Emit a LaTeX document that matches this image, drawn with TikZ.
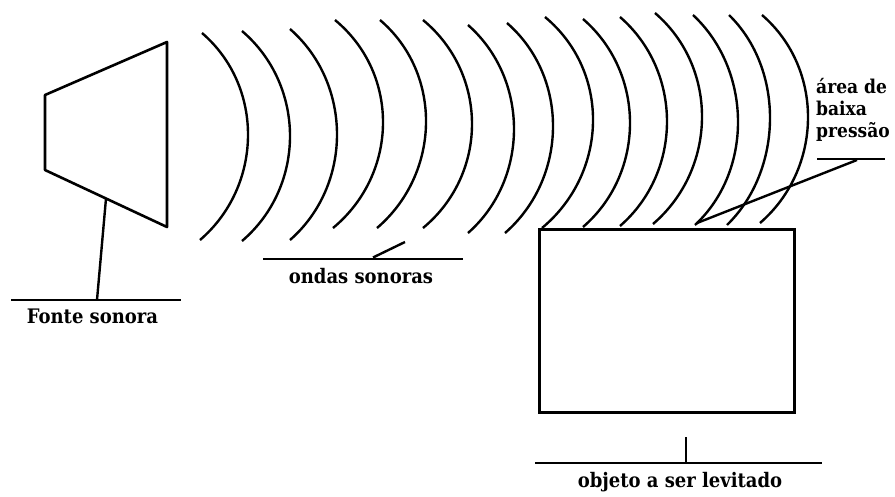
\documentclass[tikz,border=0pt]{standalone}
\usepackage{fontspec}
\setmainfont{DejaVu Serif Condensed}[BoldFont={DejaVu Serif Condensed Bold}]
% one sound-wave front: top x, top y, apex x, bottom x, bottom y
\newcommand\soundwave[5]{%
  \pgfmathsetmacro\wvc{4/3*(#3-(#1+#4)/2)}%
  \pgfmathsetmacro\wvh{0.26*(#5-#2)}%
  \draw[wavestroke] (#1,#2) .. controls ({#1+\wvc},{#2+\wvh}) and ({#4+\wvc},{#5-\wvh}) .. (#4,#5);}
\begin{document}
\begin{tikzpicture}[x=1pt,y=-1pt,
  ink/.style={line width=2.6pt, line join=round},
  wavestroke/.style={line width=2.4pt},
  leader/.style={line width=2.4pt},
  caption/.style={font=\fontsize{20}{22}\selectfont\bfseries, inner sep=0pt}]
\useasboundingbox (0,0) rectangle (895,496);

% loudspeaker
\draw[ink] (45,95) -- (45,170) -- (167,227) -- (167,42) -- cycle;
\coordinate (spkfoot) at (106,198.5);

% wave fronts
\soundwave{202}{33}{248}{200}{240}
\soundwave{242}{31}{290}{242}{241}
\soundwave{290}{29}{337}{290}{240}
\soundwave{335}{20}{383}{333}{228}
\soundwave{380}{20}{426}{377}{228}
\soundwave{423}{20}{472}{423}{228}
\soundwave{468}{25}{514}{468}{233}
\soundwave{507}{23}{553}{505}{233}
\soundwave{545}{17}{593}{542}{228}
\soundwave{583}{19}{630}{583}{227}
\soundwave{620}{17}{667}{620}{226}
\soundwave{655}{13}{702}{653}{224}
\soundwave{693}{15}{738}{695}{225}
\soundwave{729}{15}{770}{727}{225}
\soundwave{762}{15}{808}{760}{223}

% object
\node[draw, line width=3pt, minimum width=255pt, minimum height=183pt,
      anchor=north west, inner sep=0pt] (obj) at (538,228) {};

% label: source
\coordinate (fL) at (11,300);
\coordinate (fR) at (181,300);
\coordinate (fS) at (97,300);
\draw[ink] (fL) -- (fR);
\draw[leader] (spkfoot) -- (fS);
\node[caption, anchor=base] (fonte) at (92.5,323) {Fonte sonora};

% label: waves
\coordinate (wL) at (263,259);
\coordinate (wR) at (463,259);
\coordinate (wS) at (373,257.5);
\coordinate (wT) at (405,242);
\draw[ink] (wL) -- (wR);
\draw[leader] (wS) -- (wT);
\node[caption, anchor=base] (ondas) at (361,283) {ondas sonoras};

% label: low pressure
\coordinate (pL) at (817,159);
\coordinate (pR) at (885,159);
\coordinate (pS) at (857,160);
\coordinate (pT) at (697,223);
\draw[ink] (pL) -- (pR);
\draw[leader] (pS) -- (pT);
\node[caption, font=\fontsize{19}{22}\selectfont\bfseries, anchor=base west, align=left] (area) at (816,137) {área de\\baixa\\pressão};

% label: object
\coordinate (oL) at (535,463);
\coordinate (oR) at (822,463);
\coordinate (oS) at (686,437);
\draw[ink] (oL) -- (oR);
\draw[leader] (oS) -- (oS |- oL);
\node[caption, anchor=base] (objeto) at (680,487) {objeto a ser levitado};
\end{tikzpicture}
\end{document}
